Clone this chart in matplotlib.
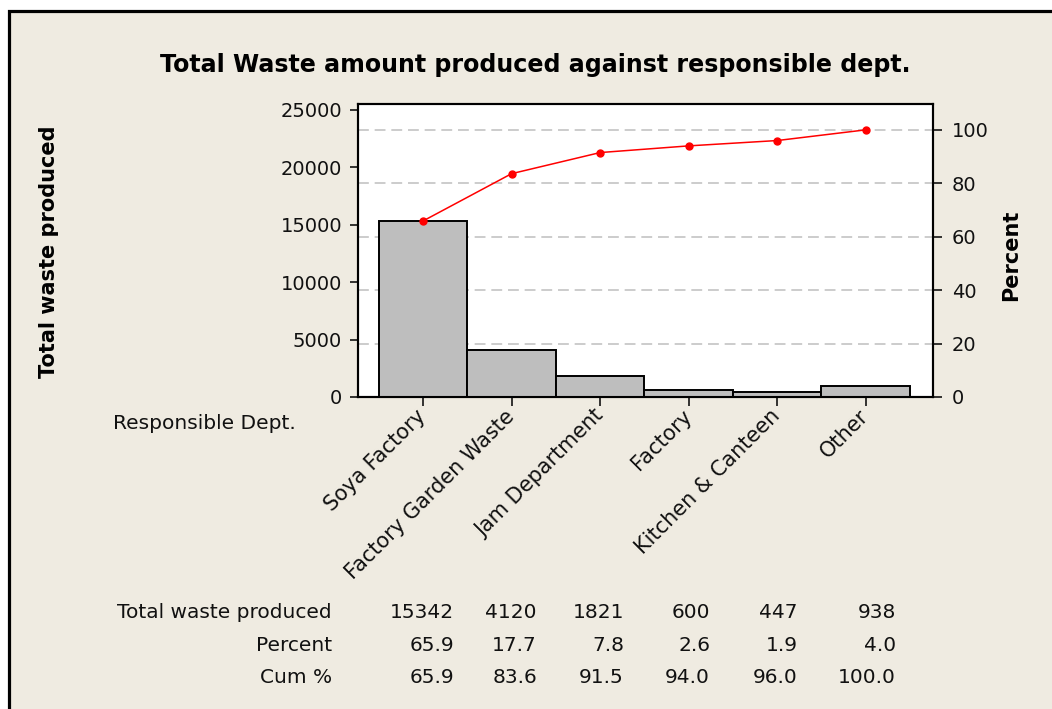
import matplotlib
matplotlib.use("Agg")
import matplotlib.pyplot as plt
from matplotlib.patches import Rectangle

# ---- data ----
depts = ["Soya Factory", "Factory Garden Waste", "Jam Department", "Factory",
         "Kitchen & Canteen", "Other"]
waste = [15342, 4120, 1821, 600, 447, 938]
percent = [65.9, 17.7, 7.8, 2.6, 1.9, 4.0]
cum_pct = [65.9, 83.6, 91.5, 94.0, 96.0, 100.0]
left_ticks = [0, 5000, 10000, 15000, 20000, 25000]
right_ticks = [0, 20, 40, 60, 80, 100]

W, H = 1052, 709
BG = "#EFEBE1"
plt.rcParams['font.family'] = ['DejaVu Sans']

fig = plt.figure(figsize=(W / 100, H / 100), dpi=100, facecolor="white")

def fx(px):
    return px / W

def fy(py):
    return 1 - py / H

# beige panel with black border (left & top visible)
panel = Rectangle((fx(8.5), fy(H + 20)), fx(1100), (H + 20 - 11.5) / H,
                  transform=fig.transFigure, facecolor=BG, edgecolor="black",
                  linewidth=2.3, zorder=-10, clip_on=False)
fig.patches.append(panel)

ax_l, ax_r, ax_t, ax_b = 358, 933, 104, 397
ax = fig.add_axes([fx(ax_l), fy(ax_b), fx(ax_r - ax_l), (ax_b - ax_t) / H])
ax.set_facecolor("white")

total = sum(waste)
x = list(range(len(depts)))
ax.bar(x, waste, width=1.0, color="#BEBEBE", edgecolor="black",
       linewidth=1.4, zorder=3)
ymax = 25520
ax.set_ylim(0, ymax)
ax.set_xlim(-0.735, 5.76)
ax.set_yticks(left_ticks)
ax.set_yticklabels([str(v) for v in left_ticks])
ax.set_xticks(x)
ax.set_xticklabels(depts, rotation=45, ha="right", rotation_mode="anchor",
                   va="center")

ax2 = ax.twinx()
ax2.set_ylim(0, ymax / total * 100)
ax2.set_yticks(right_ticks)
ax2.set_yticklabels([str(v) for v in right_ticks])
ax2.plot(x, cum_pct, color="#FF0000", linewidth=1.1, marker="o",
         markersize=5, zorder=5)

# dashed grid at percent ticks, behind bars
for p in right_ticks[1:]:
    ax.axhline(p / 100 * total, color="#C4C4C4", linewidth=1.2,
               linestyle=(0, (6.5, 3.5)), zorder=1)

for a in (ax, ax2):
    for s in a.spines.values():
        s.set_linewidth(1.5)
        s.set_color("black")

ax.tick_params(axis="y", length=6, width=1.1, pad=5.5, labelsize=14,
               color="black", labelcolor="#111111")
ax.tick_params(axis="x", length=6.5, width=1.1, pad=5, labelsize=15,
               labelcolor="#111111")
ax2.tick_params(axis="y", length=6.5, width=1.1, pad=7, labelsize=14,
                labelcolor="#111111")

# titles and labels
fig.text(fx(535), fy(72), "Total Waste amount produced against responsible dept.",
         ha="center", va="baseline", fontsize=17.1, fontweight="bold")
fig.text(fx(49), fy(252), "Total waste produced", rotation=90,
         ha="center", va="center", fontsize=15, fontweight="bold")
fig.text(fx(1011), fy(255), "Percent", rotation=90,
         ha="center", va="center", fontsize=15, fontweight="bold")
fig.text(fx(113), fy(429), "Responsible Dept.", ha="left", va="baseline",
         fontsize=14.5, color="#111111")

# table under the chart
row_labels = ["Total waste produced", "Percent", "Cum %"]
rows = [[str(v) for v in waste],
        [f"{v:.1f}" for v in percent],
        [f"{v:.1f}" for v in cum_pct]]
row_base = [618, 651, 683]
col_right = [454, 537, 624, 710, 798, 896]
for lab, vals, yb in zip(row_labels, rows, row_base):
    fig.text(fx(332), fy(yb), lab, ha="right", va="baseline", fontsize=14.5,
             color="#111111")
    for v, xr in zip(vals, col_right):
        fig.text(fx(xr), fy(yb), v, ha="right", va="baseline", fontsize=14.5,
                 color="#111111")

fig.savefig("out.png", dpi=100, facecolor="white")
